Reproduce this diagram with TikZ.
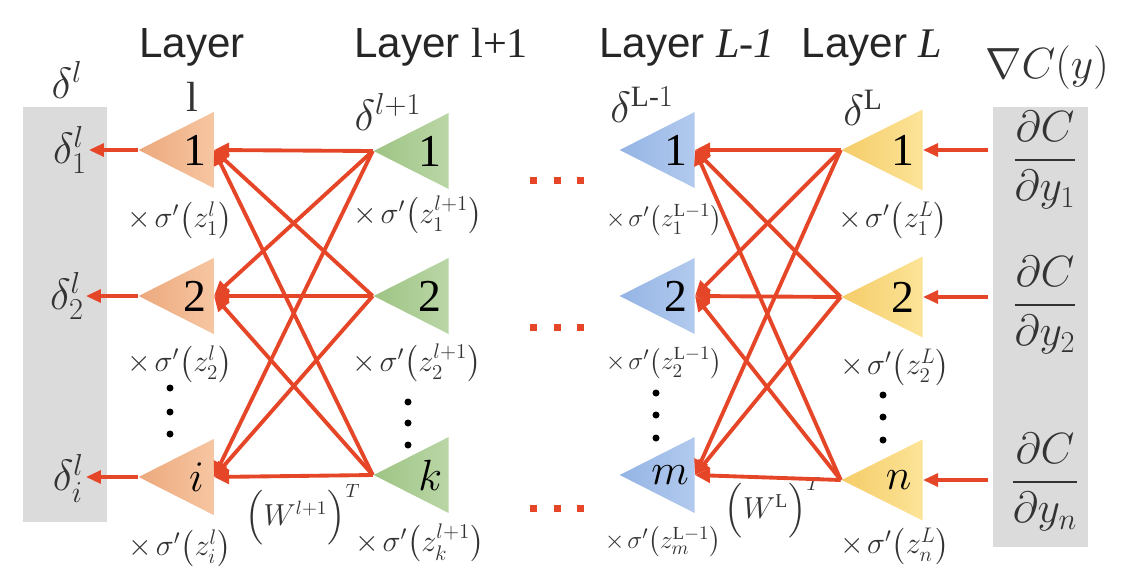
\documentclass[tikz,border=0pt]{standalone}
\usepackage{fontspec}
\setmainfont{Liberation Serif}
\setsansfont{Liberation Sans}
\usepackage{amsmath}
\usetikzlibrary{arrows.meta,shapes.geometric}
\definecolor{errred}{RGB}{230,70,40}
\definecolor{boxgray}{RGB}{219,219,219}
\definecolor{peach}{RGB}{236,168,124}
\definecolor{peachlight}{RGB}{246,198,162}
\definecolor{sage}{RGB}{158,196,132}
\definecolor{sagelight}{RGB}{186,214,166}
\definecolor{skyblue}{RGB}{148,180,228}
\definecolor{skylight}{RGB}{178,202,238}
\definecolor{butter}{RGB}{245,204,104}
\definecolor{butterlight}{RGB}{252,228,152}
\newcommand{\dsig}[2]{$\times\mkern2mu\sigma'\!\left(z_{#1}^{#2}\right)$}
\tikzset{
  neuron/.style={isosceles triangle,shape border rotate=180,isosceles triangle stretches,draw=none,inner sep=0pt,minimum width=1.52cm,minimum height=1.5cm,anchor=lower side,font=\fontsize{26}{30}\selectfont},
  orangeN/.style={neuron,left color=peach,right color=peachlight},
  greenN/.style={neuron,left color=sage,right color=sagelight},
  blueN/.style={neuron,left color=skyblue,right color=skylight},
  yellowN/.style={neuron,left color=butter,right color=butterlight,minimum width=1.62cm,minimum height=1.62cm},
  panel/.style={draw=none,fill=boxgray,inner sep=0pt},
  layerlab/.style={font=\fontsize{24}{28}\sffamily,text=black!85,inner sep=1pt},
  mathlab/.style={font=\fontsize{24}{28}\selectfont,text=black!80,inner sep=1pt},
  siglab/.style={font=\fontsize{18}{22}\selectfont,text=black!80,inner sep=1pt},
  sigsmall/.style={siglab,font=\fontsize{15}{18}\selectfont},
  fraclab/.style={font=\fontsize{27}{32}\selectfont,text=black!80,inner sep=1pt},
  wlab/.style={font=\fontsize{16}{20}\selectfont,text=black!80,inner sep=1pt},
  wt/.style={-{Triangle[length=0.3cm,width=0.28cm]},draw=errred,line width=2.2pt},
  outarr/.style={-{Triangle[length=0.3cm,width=0.26cm]},draw=errred,line width=1.8pt}
}

\begin{document}
\begin{tikzpicture}[x=0.02cm,y=-0.02cm]
  \useasboundingbox (0,0) rectangle (1138,572);
  \node[panel,minimum width=1.68cm,minimum height=8.3cm] (lbox) at (65,314.5) {};
  \node[panel,minimum width=1.9cm,minimum height=8.8cm] (rbox) at (1040.5,327) {};

  \node[layerlab] (lay1) at (192,47) {Layer};
  \node[mathlab] (lay1n) at (192,97) {l};
  \node[layerlab] (lay2) at (441,47) {Layer {\rmfamily l+1}};
  \node[layerlab] (lay3) at (687,47) {Layer {\rmfamily\itshape L-1}};
  \node[layerlab] (lay4) at (872,47) {Layer {\rmfamily\itshape L}};
  \node[mathlab,font=\fontsize{26}{30}\selectfont] (grad) at (1047,68) {$\nabla C(y)$};

  \node[mathlab] (dl) at (67,80) {$\delta^{l}$};
  \node[mathlab] (dlp) at (388,112) {$\delta^{l+1}$};
  \node[mathlab] (dLm) at (642,105) {$\delta^{\mathrm{L}\text{-}1}$};
  \node[mathlab] (dL) at (863,108) {$\delta^{\mathrm{L}}$};

  \node[orangeN] (o1) at (214,150) {1};
  \node[orangeN] (o2) at (214,296) {2};
  \node[orangeN] (oi) at (214,477) {$i$};
  \node[greenN] (g1) at (449,151) {1};
  \node[greenN] (g2) at (449,296) {2};
  \node[greenN] (gk) at (449,475) {$k$};
  \node[blueN] (b1) at (695,150) {1};
  \node[blueN] (b2) at (695,296) {2};
  \node[blueN] (bm) at (695,475) {$m$};
  \node[yellowN] (y1) at (923,150) {1};
  \node[yellowN] (y2) at (923,297) {2};
  \node[yellowN] (yn) at (923,480) {$n$};

  \node[mathlab,anchor=east] (dl1) at (89,150) {$\delta^{l}_{1}$};
  \node[mathlab,anchor=east] (dl2) at (86,296) {$\delta^{l}_{2}$};
  \node[mathlab,anchor=east] (dli) at (86,478) {$\delta^{l}_{i}$};

  \node[fraclab] (dc1) at (1045,160) {$\dfrac{\partial C}{\partial y_1}$};
  \node[fraclab] (dc2) at (1045,305) {$\dfrac{\partial C}{\partial y_2}$};
  \node[fraclab] (dcn) at (1045,482) {$\dfrac{\partial C}{\partial y_n}$};

  \node[siglab] (so1) at (180,220) {\dsig{1}{l}};
  \node[siglab] (so2) at (180,364) {\dsig{2}{l}};
  \node[siglab] (soi) at (180,548) {\dsig{i}{l}};
  \node[siglab] (sg1) at (418,215) {\dsig{1}{l+1}};
  \node[siglab] (sg2) at (417,363) {\dsig{2}{l+1}};
  \node[siglab] (sgk) at (420,543) {\dsig{k}{l+1}};
  \node[sigsmall] (sb1) at (664,220) {\dsig{1}{\mathrm{L}-1}};
  \node[sigsmall] (sb2) at (664,363) {\dsig{2}{\mathrm{L}-1}};
  \node[sigsmall] (sbm) at (663,542) {\dsig{m}{\mathrm{L}-1}};
  \node[siglab] (sy1) at (893,220) {\dsig{1}{L}};
  \node[siglab] (sy2) at (895,367) {\dsig{2}{L}};
  \node[siglab] (syn) at (895,546) {\dsig{n}{L}};

  \node[wlab] (w1) at (303,515) {$\Big(W^{l+1}\Big)^{T}$};
  \node[wlab] (w2) at (773,508) {$\Big(W^{\mathrm{L}}\Big)^{T}$};

  \foreach \s in {g1,g2,gk}{\foreach \t in {o1,o2,oi}{\draw[wt] (\s.apex) -- (\t.lower side);}}
  \foreach \s in {y1,y2,yn}{\foreach \t in {b1,b2,bm}{\draw[wt] (\s.apex) -- (\t.lower side);}}

  \draw[outarr] (o1.apex) -- (o1.apex -| dl1.east);
  \draw[outarr] (o2.apex) -- (o2.apex -| dl2.east);
  \draw[outarr] (oi.apex) -- (oi.apex -| dli.east);
  \draw[outarr] ([xshift=-0.1cm]rbox.west |- y1.lower side) -- (y1.lower side);
  \draw[outarr] ([xshift=-0.1cm]rbox.west |- y2.lower side) -- (y2.lower side);
  \draw[outarr] ([xshift=-0.1cm]rbox.west |- yn.lower side) -- (yn.lower side);

  \foreach \y in {388,412,434} \fill (170,\y) circle (3.5);
  \foreach \y in {402,423,445} \fill (408,\y) circle (3.5);
  \foreach \y in {393,415,438} \fill (656,\y) circle (3.5);
  \foreach \y in {395,417,440} \fill (883,\y) circle (3.5);
  \foreach \y in {180,327,508}{\foreach \x in {533,557,580} \fill[errred] (\x-3.5,\y-3.5) rectangle +(7,7);}
\end{tikzpicture}
\end{document}
